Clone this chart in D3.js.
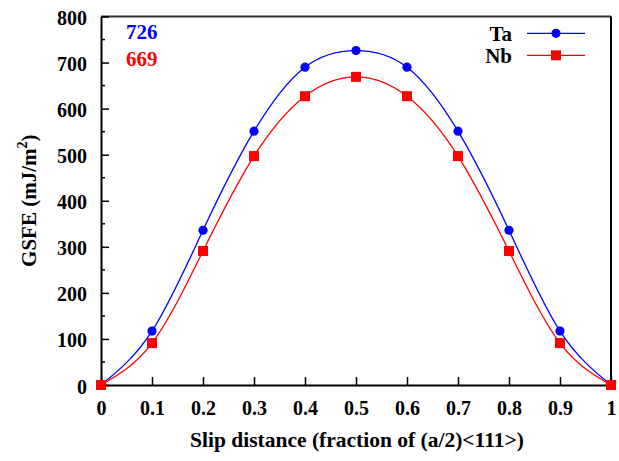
<!DOCTYPE html>
<html>
<head>
<meta charset="utf-8">
<script src="https://cdn.jsdelivr.net/npm/d3@7"></script>
<style>
  html, body { margin: 0; padding: 0; background: #fff; }
  svg text { font-family: "Liberation Serif", "Times New Roman", serif; font-weight: bold; }
</style>
</head>
<body>
<svg id="chart" width="619" height="461"></svg>
<script>
// Slip positions along (a/2)<111>
const slip = [0, 0.1, 0.2, 0.3, 0.4, 0.5, 0.6, 0.7, 0.8, 0.9, 1.0];
// Generalized stacking fault energies, mJ/m^2
const ta = [0, 117, 336, 551, 690, 726, 690, 551, 336, 117, 0];
const nb = [0, 91, 291, 497, 627, 669, 627, 497, 291, 91, 0];
const xTicks = [0, 0.1, 0.2, 0.3, 0.4, 0.5, 0.6, 0.7, 0.8, 0.9, 1];
const yTicks = [0, 100, 200, 300, 400, 500, 600, 700, 800];
const yMinor = [50, 150, 250, 350, 450, 550, 650, 750];
const peakLabels = ["726", "669"];
const seriesNames = ["Ta", "Nb"];

const svg = d3.select("#chart");
const L = 101, R = 611, T = 16.5, B = 385;

const x = d3.scaleLinear().domain([0, 1]).range([L, R]);
const y = d3.scaleLinear().domain([0, 800]).range([B, T]);

// Curves
const line = d3.line().x((d, i) => x(slip[i])).y(d => y(d)).curve(d3.curveNatural);
svg.append("path").datum(ta).attr("d", line)
  .attr("fill", "none").attr("stroke", "#0000ff").attr("stroke-width", 1.3);
svg.append("path").datum(nb).attr("d", line)
  .attr("fill", "none").attr("stroke", "#ff0000").attr("stroke-width", 1.3);

// Frame
svg.append("line").attr("x1", L).attr("x2", R).attr("y1", T).attr("y2", T)
  .attr("stroke", "#333").attr("stroke-width", 2);
svg.append("line").attr("x1", R).attr("x2", R).attr("y1", T).attr("y2", B)
  .attr("stroke", "#000").attr("stroke-width", 2);

// Bottom axis (inward ticks)
const xAxis = d3.axisBottom(x).tickValues(xTicks).tickSizeInner(-8).tickSizeOuter(0)
  .tickFormat(d => d === 0 ? "0" : d === 1 ? "1" : d3.format(".1f")(d));
const gx = svg.append("g").attr("transform", `translate(0,${B})`).call(xAxis);
gx.select(".domain").attr("stroke", "#000").attr("stroke-width", 2);
gx.selectAll(".tick line").attr("stroke", "#000").attr("stroke-width", 1.5);
gx.selectAll(".tick text").attr("font-size", 20).attr("fill", "#000")
  .attr("y", 30).attr("dy", 0)
  .style("font-family", "'Liberation Serif', serif").style("font-weight", "bold");

// Left axis (inward ticks)
const yAxis = d3.axisLeft(y).tickValues(yTicks).tickSizeInner(-8).tickSizeOuter(0);
const gy = svg.append("g").attr("transform", `translate(${L},0)`).call(yAxis);
gy.select(".domain").attr("stroke", "#000").attr("stroke-width", 2);
gy.selectAll(".tick line").attr("stroke", "#000").attr("stroke-width", 1.5);
gy.selectAll(".tick text").attr("font-size", 20).attr("fill", "#000")
  .attr("x", -14).attr("dy", "0.4em")
  .style("font-family", "'Liberation Serif', serif").style("font-weight", "bold");
gy.selectAll(".minor").data(yMinor).enter().append("line")
  .attr("x1", 0).attr("x2", 4).attr("y1", d => y(d)).attr("y2", d => y(d))
  .attr("stroke", "#000").attr("stroke-width", 1.5);

// Markers
svg.append("g").selectAll("circle").data(ta).enter().append("circle")
  .attr("cx", (d, i) => x(slip[i])).attr("cy", d => y(d)).attr("r", 4.6).attr("fill", "#0000ff");
svg.append("g").selectAll("rect").data(nb).enter().append("rect")
  .attr("x", (d, i) => x(slip[i]) - 5).attr("y", d => y(d) - 5)
  .attr("width", 10).attr("height", 10).attr("fill", "#ff0000");

// Axis titles
svg.append("text").attr("x", (L + R) / 2 + 1).attr("y", 447).attr("text-anchor", "middle")
  .attr("font-size", 21.5).attr("fill", "#000")
  .text("Slip distance (fraction of (a/2)<111>)");
const yt = svg.append("text").attr("transform", `translate(36,${(T + B) / 2}) rotate(-90)`)
  .attr("text-anchor", "middle").attr("font-size", 21).attr("fill", "#000");
yt.append("tspan").text("GSFE (mJ/m");
yt.append("tspan").attr("font-size", 14).attr("dy", -9).text("2");
yt.append("tspan").attr("dy", 9).text(")");

// Peak values
svg.append("text").attr("x", 126).attr("y", 38.5).attr("font-size", 21).attr("fill", "#0000ff").text(peakLabels[0]);
svg.append("text").attr("x", 126).attr("y", 65.5).attr("font-size", 21).attr("fill", "#ff0000").text(peakLabels[1]);

// Legend
const legY = [33.3, 55.3];
const legColors = ["#0000ff", "#ff0000"];
seriesNames.forEach((name, i) => {
  svg.append("text").attr("x", 512).attr("y", legY[i] + 7.5).attr("text-anchor", "end")
    .attr("font-size", 21).attr("fill", "#000").text(name);
  svg.append("line").attr("x1", 527).attr("x2", 585).attr("y1", legY[i]).attr("y2", legY[i])
    .attr("stroke", legColors[i]).attr("stroke-width", 1.3);
});
svg.append("circle").attr("cx", 556).attr("cy", legY[0]).attr("r", 4.6).attr("fill", legColors[0]);
svg.append("rect").attr("x", 551).attr("y", legY[1] - 5).attr("width", 10).attr("height", 10).attr("fill", legColors[1]);
</script>
</body>
</html>
